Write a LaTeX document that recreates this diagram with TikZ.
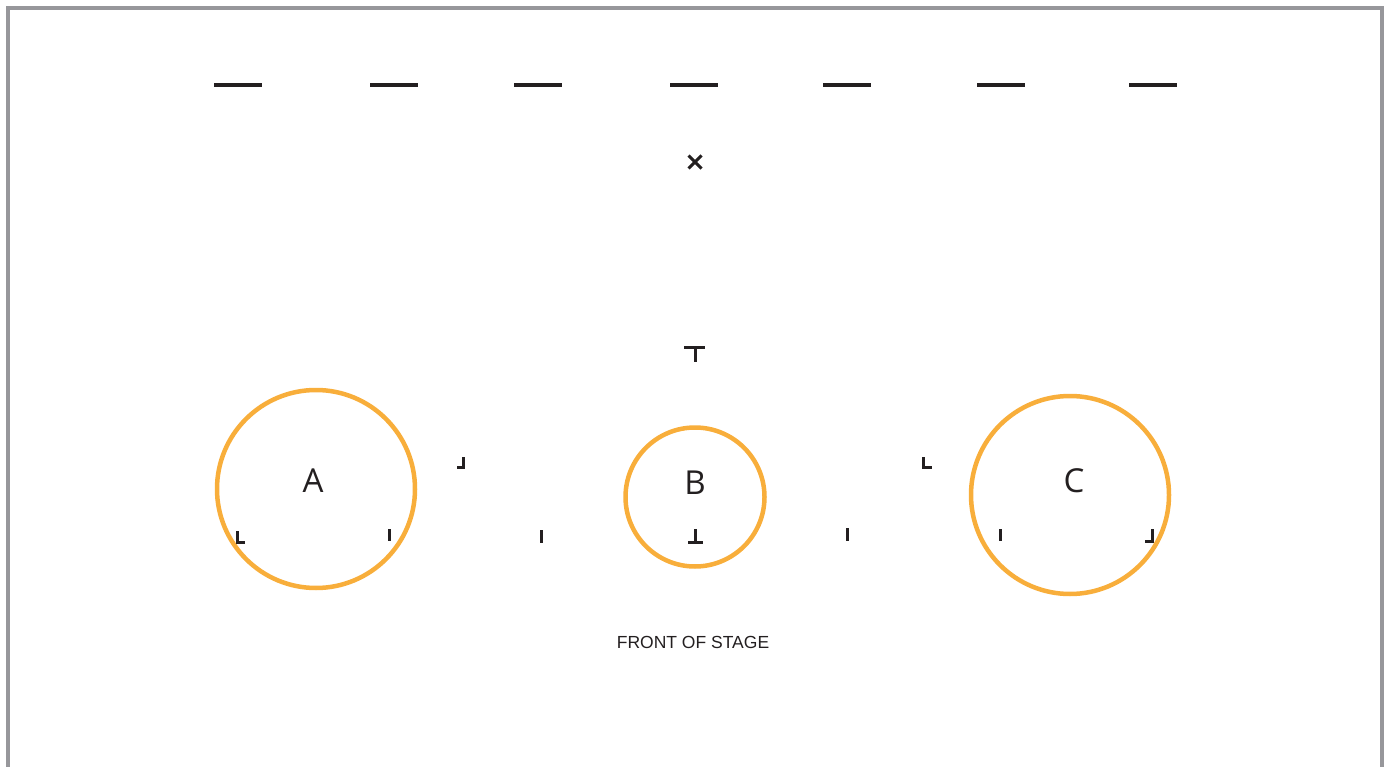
\documentclass[tikz,border=0pt]{standalone}
\usepackage{fontspec}
\setmainfont{Open Sans}
\newfontfamily\stagefont{Liberation Sans}
\definecolor{ring}{HTML}{F8AE3B}
\definecolor{frame}{HTML}{97979B}
\definecolor{ink}{HTML}{231F20}
\begin{document}
\begin{tikzpicture}[x=1pt,y=-1pt]
        \useasboundingbox (0,0) rectangle (1389,767);

        % frame
        \draw[frame,line width=4pt] (8,767) -- (8,8) -- (1382,8) -- (1382,767);

        % upstage line
        \begin{scope}[ink,line width=4pt]
          \foreach \x in {214,370,514,670,823,977,1129}
            \draw (\x,85) -- ++(48,0);
        \end{scope}

        % areas
        \begin{scope}[every node/.style={circle,draw=ring,line width=4.5pt,inner sep=0pt}]
          \node[minimum size=198pt] (A) at (316,489) {};
          \node[minimum size=139pt] (B) at (695,497) {};
          \node[minimum size=198pt] (C) at (1070,495) {};
        \end{scope}

        \begin{scope}[every node/.style={text=ink,font=\fontsize{33}{36}\selectfont}]
          \node (la) at (313,481) {A};
          \node (lb) at (695,483) {B};
          \node (lc) at (1074,481) {C};
        \end{scope}

        % spike marks
        \begin{scope}[ink,line width=3pt]
          \draw (688.5,155.5) -- (701.5,168.5) (701.5,155.5) -- (688.5,168.5);
          \draw (684,347) -- (705,347) (695,347) -- (695,362);
          \draw (463,457) -- (463,467) -- (457,467);
          \draw (923,457) -- (923,467) -- (932,467);
          \draw (237,531) -- (237,542) -- (245,542);
          \draw (389,529) -- (389,541);
          \draw (541,530) -- (541,543);
          \draw (695,529) -- (695,542) (688,542) -- (703,542);
          \draw (847,528) -- (847,541);
          \draw (1000,529) -- (1000,541);
          \draw (1152,529) -- (1152,541) -- (1145,541);
        \end{scope}

        \node[text=ink,font=\stagefont\fontsize{17.5}{20}\selectfont] (front) at (693,642) {FRONT OF STAGE};

      \end{tikzpicture}
\end{document}
